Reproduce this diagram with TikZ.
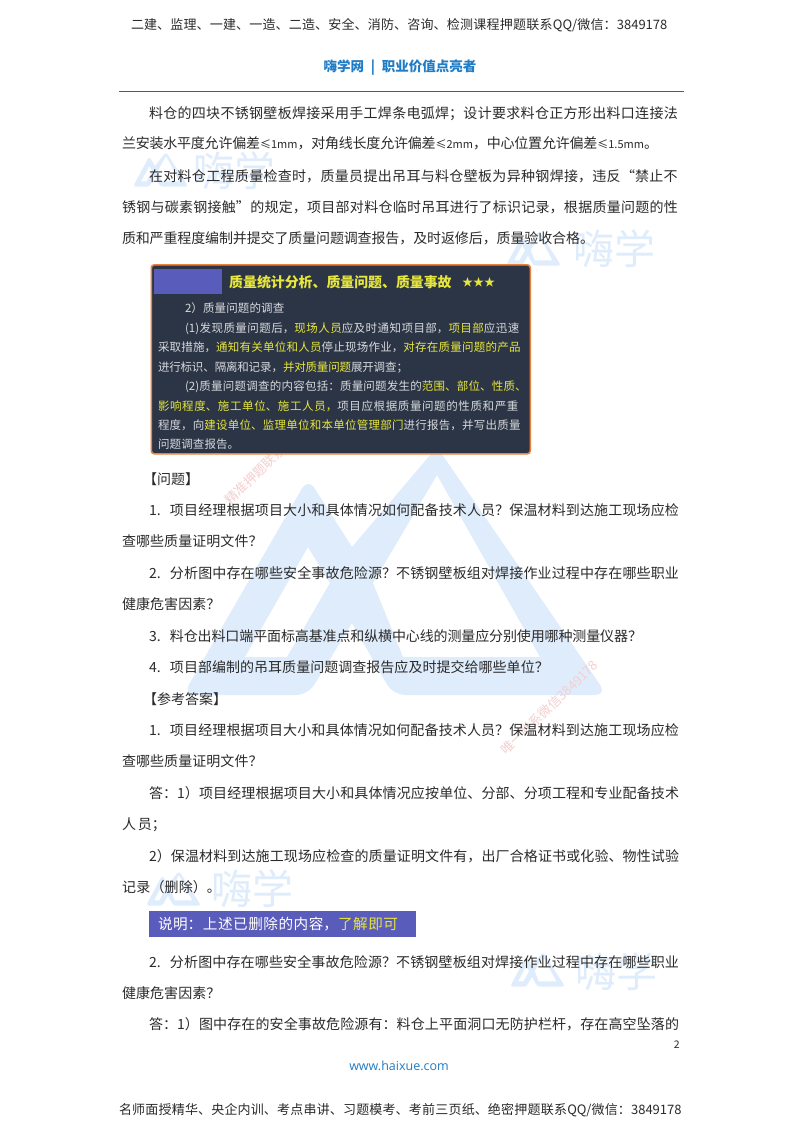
\documentclass[tikz,border=0pt]{standalone}
\usepackage{fontspec}
\setmainfont{Noto Sans CJK SC}
\newfontfamily\urlfont{Open Sans}
\XeTeXlinebreaklocale "zh"
\XeTeXlinebreakskip=0pt plus 4pt minus 1pt
\definecolor{bodyc}{HTML}{2A2A2A}
\definecolor{wm}{HTML}{DFECFB}
\definecolor{wmred}{HTML}{F5CFCF}
\definecolor{bluec}{HTML}{1F7CC6}
\definecolor{boxbg}{HTML}{2C3545}
\definecolor{boxline}{HTML}{E8823C}
\definecolor{purp}{HTML}{5A5CBC}
\definecolor{yl}{HTML}{E6E63C}
\definecolor{boxtxt}{HTML}{D6D9DD}
\tikzset{
  linebox/.style={anchor=base west,inner sep=0pt,outer sep=0pt,color=bodyc,
    font=\fontsize{14}{16}\selectfont,execute at begin node={\parfillskip=0pt\relax}},
  boxline/.style={linebox,color=boxtxt,font=\fontsize{11.5}{13}\selectfont},
  hdr/.style={linebox,font=\fontsize{13}{15}\selectfont},
  wmtext/.style={anchor=center,inner sep=0pt,color=wm,font=\fontsize{41}{44}\selectfont},
  redmark/.style={anchor=west,inner sep=0pt,color=wmred,font=\fontsize{13}{15}\selectfont,rotate=44}
}
% one stretched line of text: options, name, left x, right x, baseline y, text
\newcommand\tl[6][linebox]{\node[#1,text width={(#4-#3)*1pt}] (#2) at (#3,#5) {#6};}
\newcommand\lat[1]{{\fontsize{11}{13}\selectfont #1}}
\newcommand\logopath[1]{
  \fill[wm,even odd rule] [rounded corners=#1] (0,248) -- (125,31) [sharp corners] -- (169,100)
    [rounded corners=#1] -- (254,0) -- (424,248) -- (210,248) [sharp corners] -- (169,176)
    [rounded corners=#1] -- (125,248) -- cycle
    [sharp corners] (125,100) -- (147,136) -- (104,210) -- (62,210) -- cycle
    (254,28) -- (357,210) -- (220,210) -- (190,136) -- cycle;
}
\newcommand\smalllogo[6]{% name, logo x, logo y, text cx, text cy, unused
  \begin{scope}[shift={(#2,#3)},xscale=.13,yscale=.14]\logopath{3pt}\end{scope}
  \node[wmtext] (#1) at (#4,#5) {嗨学};
}
\begin{document}
\begin{tikzpicture}[x=1pt,y=-1pt]
\useasboundingbox (0,0) rectangle (800,1132);
\fill[white] (0,0) rectangle (800,1132);
% watermarks
\begin{scope}[shift={(183,447)}]\logopath{12pt}\end{scope}
\smalllogo{wa}{133}{152}{234}{171}{}
\smalllogo{wb}{506}{231}{614}{249}{}
\smalllogo{wc}{146}{871}{252}{889}{}
\smalllogo{wd}{510}{952}{616}{972}{}
\node[redmark] (ra) at (227,502) {精准押题联系微信3849178};
\node[redmark] (rb) at (503,752) {唯一联系微信3849178};
% header
\tl[hdr]{h1}{131}{669}{30}{二建、监理、一建、一造、二造、安全、消防、咨询、检测课程押题联系QQ/微信：3849178}
\node[anchor=base,inner sep=0pt,color=bluec,font=\fontsize{13.5}{15}\selectfont\bfseries] (h2) at (400,71) {嗨学网\enspace|\enspace 职业价值点亮者};
\coordinate (ruleL) at (119,91);
\coordinate (ruleR) at (684,91);
\draw[color=black!65,line width=1pt] (ruleL) -- (ruleR);
% body
\tl{a1}{149}{680}{118}{料仓的四块不锈钢壁板焊接采用手工焊条电弧焊；设计要求料仓正方形出料口连接法}
\tl{a2}{122}{658}{148}{兰安装水平度允许偏差\lat{≤1mm}，对角线长度允许偏差\lat{≤2mm}，中心位置允许偏差\lat{≤1.5mm}。}
\tl{a3}{149}{680}{181}{在对料仓工程质量检查时，质量员提出吊耳与料仓壁板为异种钢焊接，违反“禁止不}
\tl{a4}{122}{680}{212}{锈钢与碳素钢接触”的规定，项目部对料仓临时吊耳进行了标识记录，根据质量问题的性}
\tl{a5}{122}{594}{243}{质和严重程度编制并提交了质量问题调查报告，及时返修后，质量验收合格。}
% dark box
\node[rounded corners=3pt,draw=boxline,line width=1.6pt,fill=boxbg,anchor=north west,minimum width=379pt,minimum height=189pt,inner sep=0pt] (box) at (150.5,264) {};
\fill[purp] (154,269) rectangle (222,294);
\node[anchor=base west,inner sep=0pt,color=yl,font=\fontsize{13.9}{15}\selectfont\bfseries] (bt) at (229,287) {质量统计分析、质量问题、质量事故};
\node[anchor=base west,inner sep=0pt,color=yl,font=\fontsize{11}{13}\selectfont] (bs) at (462,286.5) {★★★};
\tl[boxline]{b1}{185}{285}{312}{2）质量问题的调查}
\tl[boxline]{b2}{185}{522}{332}{(1)发现质量问题后，{\color{yl}现场人员}应及时通知项目部，{\color{yl}项目部}应迅速}
\tl[boxline]{b3}{158}{522}{351.5}{采取措施，{\color{yl}通知有关单位和人员}停止现场作业，{\color{yl}对存在质量问题的产品}}
\tl[boxline]{b4}{158}{408}{371}{进行标识、隔离和记录，{\color{yl}并对质量问题}展开调查；}
\tl[boxline]{b5}{185}{528}{390.5}{(2)质量问题调查的内容包括：质量问题发生的{\color{yl}范围、部位、性质、}}
\tl[boxline]{b6}{158}{522}{410}{{\color{yl}影响程度、施工单位、施工人员，}项目应根据质量问题的性质和严重}
\tl[boxline]{b7}{158}{522}{429.5}{程度，向{\color{yl}建设单位、监理单位和本单位管理部门}进行报告，并写出质量}
\tl[boxline]{b8}{158}{240}{448.5}{问题调查报告。}
% questions
\node[anchor=base west,inner sep=0pt,color=bodyc,font=\fontsize{14}{16}\selectfont] (q0) at (143,484) {【问题】};
\tl{q1}{149}{680}{515}{1.\ \ 项目经理根据项目大小和具体情况如何配备技术人员？保温材料到达施工现场应检}
\tl{q1b}{122}{263}{546}{查哪些质量证明文件？}
\tl{q2}{149}{680}{578}{2.\ \ 分析图中存在哪些安全事故危险源？不锈钢壁板组对焊接作业过程中存在哪些职业}
\tl{q2b}{122}{221}{609}{健康危害因素？}
\tl{q3}{149}{642}{641}{3.\ \ 料仓出料口端平面标高基准点和纵横中心线的测量应分别使用哪种测量仪器？}
\tl{q4}{149}{549}{672}{4.\ \ 项目部编制的吊耳质量问题调查报告应及时提交给哪些单位？}
\node[anchor=base west,inner sep=0pt,color=bodyc,font=\fontsize{14}{16}\selectfont] (r0) at (143,704) {【参考答案】};
\tl{r1}{149}{680}{735}{1.\ \ 项目经理根据项目大小和具体情况如何配备技术人员？保温材料到达施工现场应检}
\tl{r1b}{122}{263}{766}{查哪些质量证明文件？}
\tl{r2}{149}{680}{798}{答：1）项目经理根据项目大小和具体情况应按单位、分部、分项工程和专业配备技术}
\tl{r3}{122}{178}{829}{人员；}
\tl{r4}{149}{680}{861}{2）保温材料到达施工现场应检查的质量证明文件有，出厂合格证书或化验、物性试验}
\tl{r5}{122}{223}{892}{记录（删除）。}
% banner
\node[fill=purp,anchor=north west,minimum width=267pt,minimum height=26pt,inner sep=0pt] (ban) at (149,911) {};
\tl[linebox,color=white,font=\fontsize{14.6}{16}\selectfont]{bn}{158}{402}{929.5}{说明：上述已删除的内容，{\color{yl}了解即可}}
\tl{s1}{149}{680}{967}{2.\ \ 分析图中存在哪些安全事故危险源？不锈钢壁板组对焊接作业过程中存在哪些职业}
\tl{s2}{122}{221}{998}{健康危害因素？}
\tl{s3}{149}{680}{1029}{答：1）图中存在的安全事故危险源有：料仓上平面洞口无防护栏杆，存在高空坠落的}
% footer
\node[anchor=base east,inner sep=0pt,color=bodyc,font=\fontsize{10.5}{12}\selectfont] (pg) at (680,1048) {2};
\node[anchor=base,inner sep=0pt,color=bluec,font=\urlfont\fontsize{12.5}{15}\selectfont] (url) at (399,1070) {www.haixue.com};
\tl[hdr]{f1}{119}{683}{1114}{名师面授精华、央企内训、考点串讲、习题模考、考前三页纸、绝密押题联系QQ/微信：3849178}
\end{tikzpicture}
\end{document}
